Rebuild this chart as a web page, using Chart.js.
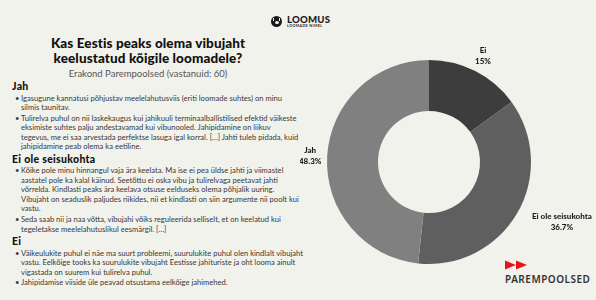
<!DOCTYPE html>
<html>
<head>
<meta charset="utf-8">
<script src="https://cdn.jsdelivr.net/npm/chart.js@4"></script>
<style>
  html, body { margin: 0; padding: 0; }
  body { width: 596px; height: 300px; background: #f2f2ed; position: relative; overflow: hidden; font-family: Lato, sans-serif; }
  #chartBox { position: absolute; left: 300px; top: 0; width: 296px; height: 300px; }
  .title { position: absolute; left: 0; width: 296px; top: 36px; text-align: center; font: 900 13.5px/15px Lato, sans-serif; color: #111; letter-spacing: 0.1px; }
  .subtitle { position: absolute; left: 0; width: 296px; top: 68px; text-align: center; font: 400 9.5px Lato, sans-serif; color: #555; }
  .notes { position: absolute; left: 12px; top: 80px; width: 300px; color: #383838; font: 400 7.6px/9.5px Lato, sans-serif; white-space: nowrap; }
  .notes h3 { margin: 0.75px 0 1.75px 0; font: 900 10.5px/12px Lato, sans-serif; color: #111; letter-spacing: 0.3px; }
  .notes h3:first-child { margin-top: 0; }
  .notes ul { margin: 0; padding: 0 0 0 9px; list-style: none; }
  .notes li { position: relative; margin: 0 0 1.2px 0; }
  .notes li:last-child { margin-bottom: 0; }
  .notes li::before { content: "•"; position: absolute; left: -6px; }
  .loomus { position: absolute; left: 271px; top: 15px; }
  .loomus .icon { position: absolute; left: 0; top: 1px; width: 11px; height: 11px; border-radius: 50%; background: #1a1a1a; }
  .loomus .icon::after { content: ""; position: absolute; left: 3.5px; top: 4.5px; width: 4px; height: 3px; background: #f2f2ed; border-radius: 50%; }
  .loomus .icon::before { content: ""; position: absolute; left: 2px; top: 2px; width: 7px; height: 2px; border-left: 1.5px dotted #f2f2ed; border-right: 1.5px dotted #f2f2ed; box-sizing: border-box; }
  .loomus .name { position: absolute; left: 16px; top: 0; font: 900 9.6px/9px Lato, sans-serif; color: #1a1a1a; letter-spacing: 0.2px; }
  .loomus .sub { position: absolute; left: 16px; top: 9px; font: 700 3.6px/4px Lato, sans-serif; color: #1a1a1a; white-space: nowrap; letter-spacing: 0.4px; }
  .parem { position: absolute; left: 505px; top: 260px; }
  .parem .name { position: absolute; left: 0; top: 14px; font: 600 10px/11px "Noto Sans", sans-serif; color: #333; letter-spacing: 0.5px; white-space: nowrap; }
</style>
</head>
<body>
<div class="title">Kas Eestis peaks olema vibujaht<br>keelustatud kõigile loomadele?</div>
<div class="subtitle">Erakond Parempoolsed (vastanuid: 60)</div>

<div class="notes">
  <h3>Jah</h3>
  <ul>
    <li>Igasugune kannatusi põhjustav meelelahutusviis (eriti loomade suhtes) on minu<br>silmis taunitav.</li>
    <li>Tulirelva puhul on nii laskekaugus kui jahikuuli terminaalballistilised efektid väikeste<br>eksimiste suhtes palju andestavamad kui vibunooled. Jahipidamine on liikuv<br>tegevus, me ei saa arvestada perfektse lasuga igal korral. […] Jahti tuleb pidada, kuid<br>jahipidamine peab olema ka eetiline.</li>
  </ul>
  <h3>Ei ole seisukohta</h3>
  <ul>
    <li>Kõike pole minu hinnangul vaja ära keelata. Ma ise ei pea üldse jahti ja viimastel<br>aastatel pole ka kalal käinud. Seetõttu ei oska vibu ja tulirelvaga peetavat jahti<br>võrrelda. Kindlasti peaks ära keelava otsuse eelduseks olema põhjalik uuring.<br>Vibujaht on seaduslik paljudes riikides, nii et kindlasti on siin argumente nii poolt kui<br>vastu.</li>
    <li>Seda saab nii ja naa võtta, vibujahi võiks reguleerida selliselt, et on keelatud kui<br>tegeletakse meelelahutuslikul eesmärgil. […]</li>
  </ul>
  <h3>Ei</h3>
  <ul>
    <li>Väikeulukite puhul ei näe ma suurt probleemi, suurulukite puhul olen kindlalt vibujaht<br>vastu. Eelkõige tooks ka suurulukite vibujaht Eestisse jahituriste ja oht looma ainult<br>vigastada on suurem kui tulirelva puhul.</li>
    <li>Jahipidamise viiside üle peavad otsustama eelkõige jahimehed.</li>
  </ul>
</div>

<div class="loomus">
  <div class="icon"></div>
  <div class="name">LOOMUS</div>
  <div class="sub">LOOMADE NIMEL</div>
</div>

<div class="parem">
  <svg width="24" height="10" style="position:absolute;left:0;top:0">
    <polygon points="0,0.5 11,5 0,9.5" fill="#e8141b"/>
    <polygon points="11,0.5 22,5 11,9.5" fill="#e8141b"/>
  </svg>
  <div class="name">PAREMPOOLSED</div>
</div>

<div id="chartBox"><canvas id="pieChart"></canvas></div>

<script>
  // vastuste jaotus
  const answerLabels = ["Ei", "Ei ole seisukohta", "Jah"];
  const answerShares = [15, 36.7, 48.3];
  const sliceColors = ["#3d3d3d", "#5f5f5f", "#808080"];

  // sildid sektorite kõrval
  const outsideLabels = {
    id: "outsideLabels",
    afterDatasetsDraw(chart) {
      const ctx = chart.ctx;
      const meta = chart.getDatasetMeta(0);
      ctx.save();
      ctx.font = "900 8px Lato, sans-serif";
      ctx.fillStyle = "#1a1a1a";
      ctx.textBaseline = "middle";
      ctx.textAlign = "center";
      meta.data.forEach((arc, i) => {
        const mid = (arc.startAngle + arc.endAngle) / 2;
        const r = arc.outerRadius + 17;
        const x = arc.x + Math.cos(mid) * r;
        const y = arc.y + Math.sin(mid) * r;
        const pct = answerShares[i] + "%";
        const w = Math.max(ctx.measureText(answerLabels[i]).width, ctx.measureText(pct).width);
        let tx = x;
        // alumisel poolel lükatakse silt rõngast eemale
        if (Math.sin(mid) > 0.3) {
          tx = Math.cos(mid) < 0 ? x - w / 2 : x + w / 2;
        }
        ctx.fillText(answerLabels[i], tx, y - 5.5);
        ctx.fillText(pct, tx, y + 5.5);
      });
      ctx.restore();
    }
  };

  new Chart(document.getElementById("pieChart"), {
    type: "doughnut",
    data: {
      labels: answerLabels,
      datasets: [{
        data: answerShares,
        backgroundColor: sliceColors,
        borderWidth: 0
      }]
    },
    options: {
      responsive: true,
      maintainAspectRatio: false,
      animation: false,
      cutout: "50%",
      layout: { padding: { left: 27, right: 65, top: 60, bottom: 36 } },
      plugins: {
        legend: { display: false },
        tooltip: { enabled: false }
      }
    },
    plugins: [outsideLabels]
  });
</script>
</body>
</html>
